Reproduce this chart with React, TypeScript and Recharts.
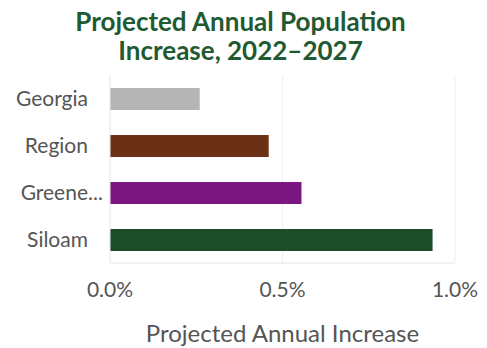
import { BarChart, Bar, XAxis, YAxis, CartesianGrid, Cell, Label } from "recharts";

const places = ["Georgia", "Region", "Greene County", "Siloam"];
const increase = [0.26, 0.46, 0.555, 0.935];
const barColors = ["#b5b5b5", "#6a3116", "#7c1680", "#1b4d28"];
const xTicks = [0, 0.5, 1];

const data = places.map((name, i) => ({ name, value: increase[i] }));

// long names get cut like in the source chart ("Greene...")
const CategoryTick = (props: any) => {
  const { x, y, payload } = props;
  const name: string = payload.value;
  const long = name.length > 8;
  const shown = long ? name.slice(0, 6) : name;
  return (
    <g>
      <text x={x} y={y} dy="0.35em" textAnchor="end" fill="#555" fontSize={21}>
        {shown}
      </text>
      {long && (
        <text x={x} y={y} dy="0.35em" textAnchor="start" fill="#555" fontSize={21}>
          ...
        </text>
      )}
    </g>
  );
};

export default function App() {
  return (
    <div
      style={{
        position: "absolute",
        left: 0,
        top: 0,
        width: 487,
        height: 348,
        background: "#fff",
        fontFamily: "Lato",
      }}
    >
      <div
        style={{
          position: "absolute",
          top: 7,
          left: 0,
          width: 487,
          textAlign: "center",
          color: "#1f5a32",
          fontWeight: 700,
          fontSize: 26,
          lineHeight: "29px",
          paddingRight: 6,
          boxSizing: "border-box",
        }}
      >
        Projected Annual Population
        <br />
        Increase, 2022–2027
      </div>
      <BarChart
        width={487}
        height={348}
        data={data}
        layout="vertical"
        margin={{ top: 75, right: 32, bottom: 15, left: 0 }}
        barCategoryGap="0%"
      >
        <CartesianGrid horizontal={false} stroke="#f0f0f0" />
        <XAxis
          type="number"
          domain={[0, 1]}
          ticks={xTicks}
          tickFormatter={(v: number) => v.toFixed(1) + "%"}
          axisLine={{ stroke: "#e6e6e6" }}
          tickLine={false}
          tickMargin={13}
          height={70}
          tick={{ fill: "#555", fontSize: 21 }}
        >
          <Label
            value="Projected Annual Increase"
            position="insideBottom"
            offset={-9}
            style={{ fill: "#555", fontSize: 24 }}
          />
        </XAxis>
        <YAxis
          type="category"
          dataKey="name"
          width={110}
          axisLine={{ stroke: "#ececec" }}
          tickLine={false}
          tickMargin={16}
          tick={<CategoryTick />}
        />
        <Bar dataKey="value" barSize={22} isAnimationActive={false}>
          {data.map((d, i) => (
            <Cell key={d.name} fill={barColors[i]} />
          ))}
        </Bar>
      </BarChart>
    </div>
  );
}
